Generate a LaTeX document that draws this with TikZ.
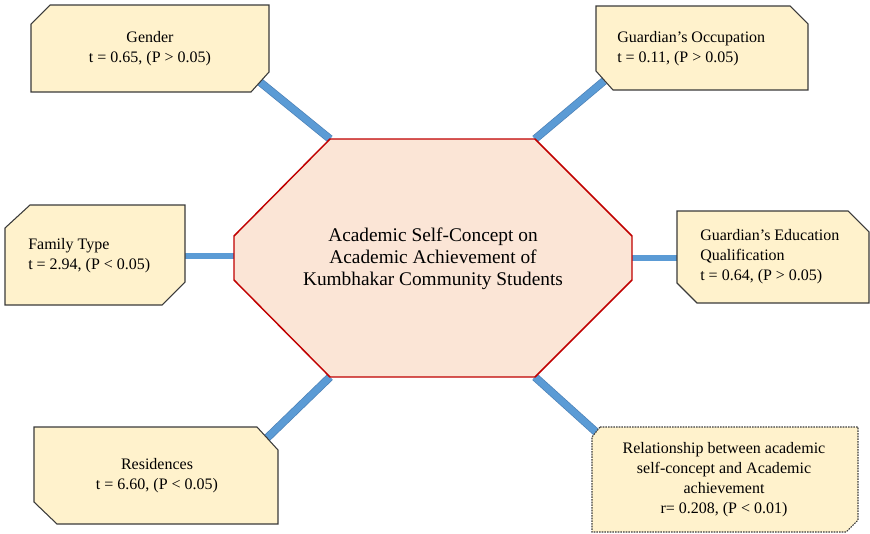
\documentclass[tikz,border=0pt]{standalone}
\usepackage{fontspec}
\setmainfont{Liberation Serif}

\definecolor{boxfill}{HTML}{FFF2CC}
\definecolor{boxline}{HTML}{3A3A3A}
\definecolor{octfill}{HTML}{FBE5D6}
\definecolor{octline}{HTML}{C00000}
\definecolor{linkblue}{HTML}{5B9BD5}
\definecolor{linkedge}{HTML}{4A7FB5}

\tikzset{
  infobox/.style={draw=boxline, fill=boxfill, line width=0.8pt},
  infotext/.style={inner sep=0pt, font=\fontsize{12}{15}\selectfont},
  link/.style={draw=linkedge, line width=0.5pt, double=linkblue, double distance=5pt},
}

\begin{document}
\begin{tikzpicture}[x=0.75pt, y=-0.75pt]
    \useasboundingbox (0,0) rectangle (870,533);

    % octagon corners
    \coordinate (onw) at (330,139);
    \coordinate (one) at (535,139);
    \coordinate (ow)  at (234,256);
    \coordinate (oe)  at (632,258);
    \coordinate (osw) at (330,377);
    \coordinate (ose) at (535,377);

    % box ends of the links
    \coordinate (gen) at (260,82);
    \coordinate (occ) at (604,81);
    \coordinate (fam) at (185,256);
    \coordinate (edu) at (677,258);
    \coordinate (res) at (267,438);
    \coordinate (rel) at (596,432);

    \draw [link] (gen) -- (onw);
    \draw [link] (occ) -- (one);
    \draw [link, double distance=4pt] (fam) -- (ow);
    \draw [link, double distance=4pt] (edu) -- (oe);
    \draw [link] (res) -- (osw);
    \draw [link] (rel) -- (ose);

    % centre
    \draw [fill=octfill, draw=octline, line width=1.1pt]
        (330,139) -- (535,139) -- (632,236) -- (632,280) -- (535,377)
        -- (330,377) -- (234,280) -- (234,236) -- cycle;
    \node (main) [inner sep=0pt, align=center, font=\fontsize{14.5}{16.5}\selectfont]
        at (433,259) {Academic Self-Concept on\\Academic Achievement of\\Kumbhakar Community Students};

    % boxes
    \draw [infobox] (50,5) -- (269,5) -- (269,72) -- (251,92) -- (31,92) -- (31,24) -- cycle;
    \node (gender) [infotext, align=center] at (150,49) {Gender\\t = 0.65, (P > 0.05)};

    \draw [infobox] (596,6) -- (790,6) -- (808,24) -- (808,90) -- (613,90) -- (596,71) -- cycle;
    \node (occupation) [infotext, align=left, anchor=west] at (617,49) {Guardian’s Occupation\\t = 0.11, (P > 0.05)};

    \draw [infobox] (30,205) -- (185,205) -- (185,282) -- (162,305) -- (5,305) -- (5,228) -- cycle;
    \node (family) [infotext, align=left, anchor=west] at (28,256) {Family Type\\t = 2.94, (P < 0.05)};

    \draw [infobox] (677,211) -- (848,211) -- (869,232) -- (869,303) -- (697,303) -- (677,283) -- cycle;
    \node (education) [infotext, align=left, anchor=west] at (700,257) {Guardian’s Education\\Qualification\\t = 0.64, (P > 0.05)};

    \draw [infobox] (34,427) -- (257,427) -- (278,450) -- (278,524) -- (57,524) -- (34,502) -- cycle;
    \node (residence) [infotext, align=center] at (157,476) {Residences\\t = 6.60, (P < 0.05)};

    \draw [infobox, dash pattern=on 1.2pt off 0.8pt] (600,427) -- (858,427) -- (858,520) -- (846,532) -- (592,532) -- (592,437) -- cycle;
    \node (relation) [infotext, align=center] at (724,480) {Relationship between academic\\self-concept and Academic\\achievement\\r= 0.208, (P < 0.01)};
\end{tikzpicture}
\end{document}
